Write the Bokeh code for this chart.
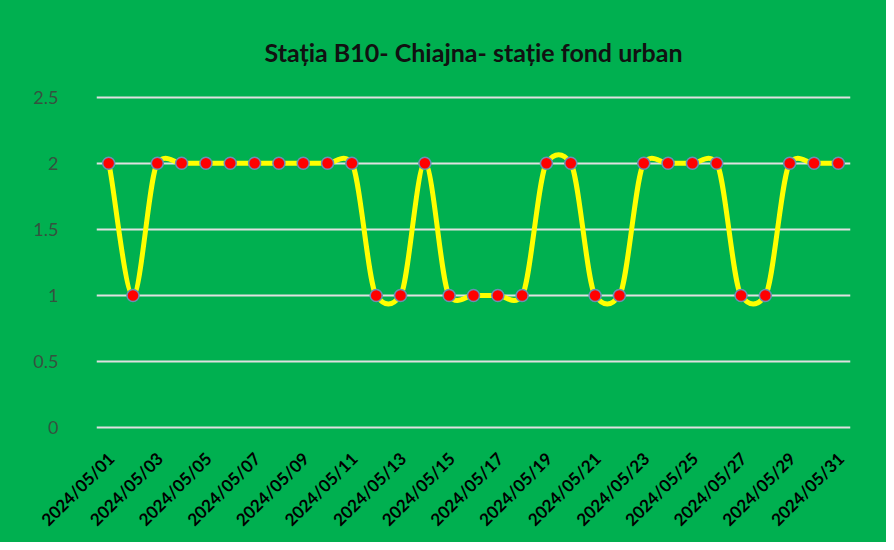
from bokeh.plotting import figure
from bokeh.models import FixedTicker
from bokeh.embed import file_html
from bokeh.resources import INLINE

days = list(range(1, 32))
date_labels = ["2024/05/%02d" % d for d in days]
values = [2, 1, 2, 2, 2, 2, 2, 2, 2, 2,
          2, 1, 1, 2, 1, 1, 1, 1, 2, 2,
          1, 1, 2, 2, 2, 2, 1, 1, 2, 2, 2]
y_ticks = [0, 0.5, 1, 1.5, 2, 2.5]
title_text = "Stația B10- Chiajna- stație fond urban"

GREEN = "#00B050"

p = figure(width=886, height=542, output_backend="svg", toolbar_location=None,
           x_range=(0.5, 31.5), y_range=(-0.012, 2.512), title=title_text,
           min_border_left=96, min_border_right=36, min_border_top=95, min_border_bottom=113)
p.background_fill_color = GREEN
p.border_fill_color = GREEN
p.outline_line_color = None
p.styles = {"background-color": GREEN}

p.title.align = "center"
p.title.text_font = "Lato"
p.title.text_font_style = "bold"
p.title.text_font_size = "25px"
p.title.text_color = "#111111"
p.title.standoff = 57

# smoothed line (bezier segments, like the spreadsheet's smoothed line)
FX, FY = 1 / 6, 0.085
n = len(days)
x0, y0, x1, y1, cx0, cy0, cx1, cy1 = [], [], [], [], [], [], [], []
for i in range(n - 1):
    ip = max(i - 1, 0)
    inx = min(i + 2, n - 1)
    x0.append(days[i]); y0.append(values[i])
    x1.append(days[i + 1]); y1.append(values[i + 1])
    cx0.append(days[i] + (days[i + 1] - days[ip]) * FX)
    cy0.append(values[i] + (values[i + 1] - values[ip]) * FY)
    cx1.append(days[i + 1] - (days[inx] - days[i]) * FX)
    cy1.append(values[i + 1] - (values[inx] - values[i]) * FY)
p.bezier(x0=x0, y0=y0, x1=x1, y1=y1, cx0=cx0, cy0=cy0, cx1=cx1, cy1=cy1,
         line_color="#FFFF00", line_width=5)
p.scatter(days, values, size=12, fill_color="#FF0000",
          line_color="#6A8FB5", line_width=1.5)

p.xgrid.grid_line_color = None
p.ygrid.grid_line_color = "#E0E0E0"
p.ygrid.grid_line_width = 2

p.yaxis.ticker = FixedTicker(ticks=y_ticks)
p.yaxis.major_label_overrides = {0: "0", 0.5: "0.5", 1: "1", 1.5: "1.5", 2: "2", 2.5: "2.5"}

LABEL_SHIFT = 0.1
x_ticks = [d + LABEL_SHIFT for d in days[::2]]
p.xaxis.ticker = FixedTicker(ticks=x_ticks)
p.xaxis.major_label_overrides = {d + LABEL_SHIFT: lab for d, lab in zip(days, date_labels)}
p.xaxis.major_label_orientation = 0.785398

for ax in (p.xaxis, p.yaxis):
    ax.axis_line_color = None
    ax.major_tick_line_color = None
    ax.minor_tick_line_color = None

p.yaxis.major_label_text_font = "Lato"
p.yaxis.major_label_text_font_size = "18px"
p.yaxis.major_label_text_color = "#35533f"
p.yaxis.major_label_standoff = 32

p.xaxis.major_label_text_font = "Lato"
p.xaxis.major_label_text_font_style = "bold"
p.xaxis.major_label_text_font_size = "17px"
p.xaxis.major_label_text_color = "#000000"
p.xaxis.major_label_standoff = 20

open("out.html", "w").write(file_html(p, INLINE))
